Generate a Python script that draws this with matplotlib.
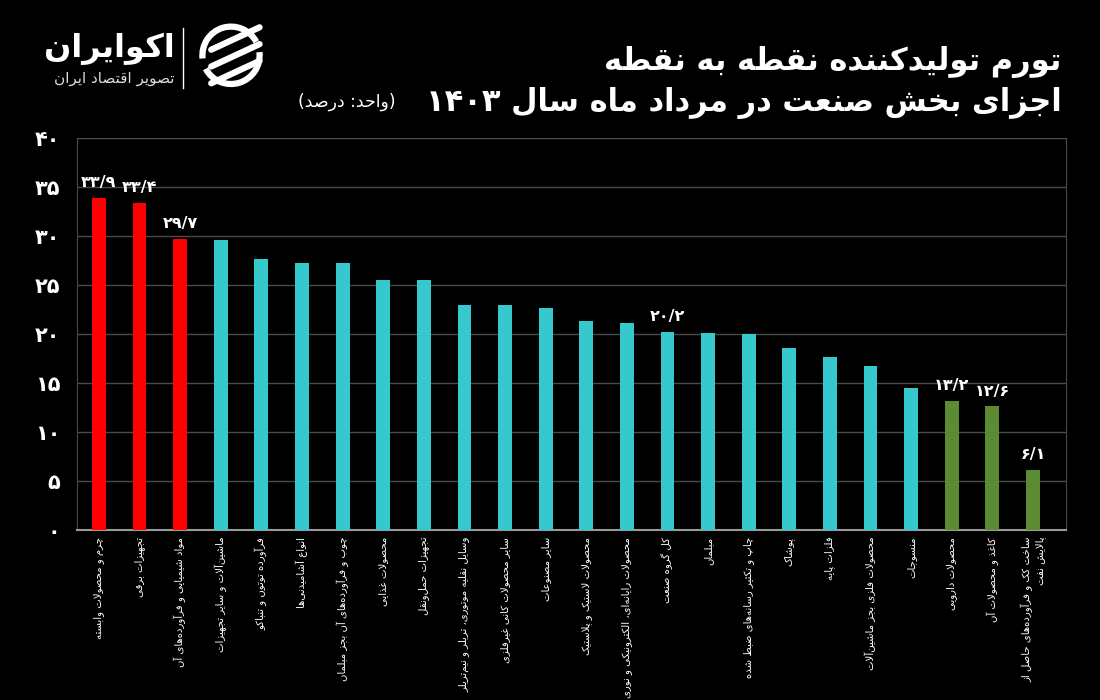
import matplotlib.pyplot as plt
import numpy as np
from matplotlib.patches import Arc
from matplotlib.lines import Line2D

plt.rcParams['font.family'] = ['DejaVu Sans']

# data (PPI inflation, Mordad 1403, percent)
categories = [
    'چرم و محصولات وابسته',
    'تجهیزات برقی',
    'مواد شیمیایی و فرآورده\u200cهای آن',
    'ماشین\u200cآلات و سایر تجهیزات',
    'فرآورده توتون و تنباکو',
    'انواع آشامیدنی\u200cها',
    'چوب و فرآورده\u200cهای آن بجز مبلمان',
    'محصولات غذایی',
    'تجهیزات حمل\u200cونقل',
    'وسایل نقلیه موتوری، تریلر و نیم\u200cتریلر',
    'سایر محصولات کانی غیرفلزی',
    'سایر مصنوعات',
    'محصولات لاستیک و پلاستیک',
    'محصولات رایانه\u200cای، الکترونیکی و نوری',
    'کل گروه صنعت',
    'مبلمان',
    'چاپ و تکثیر رسانه\u200cهای ضبط شده',
    'پوشاک',
    'فلزات پایه',
    'محصولات فلزی بجز ماشین\u200cآلات',
    'منسوجات',
    'محصولات دارویی',
    'کاغذ و محصولات آن',
    'ساخت کک و فرآورده\u200cهای حاصل از\nپالایش نفت',
]
values = [33.9, 33.4, 29.7, 29.6, 27.6, 27.2, 27.2, 25.5, 25.5, 23.0, 22.9, 22.6,
          21.3, 21.1, 20.2, 20.1, 20.0, 18.6, 17.6, 16.7, 14.5, 13.2, 12.6, 6.1]
groups = ['high'] * 3 + ['mid'] * 18 + ['low'] * 3
labelled = [0, 1, 2, 14, 21, 22, 23]
yticks = [0, 5, 10, 15, 20, 25, 30, 35, 40]

group_colors = {'high': '#ff0000', 'mid': '#35c8cd', 'low': '#5b8c34'}

title1 = 'تورم تولیدکننده نقطه به نقطه'
title2 = 'اجزای بخش صنعت در مرداد ماه سال ۱۴۰۳'
unit = '(واحد: درصد)'

# --- minimal Persian shaping + RTL ordering (matplotlib has no complex layout)
_F = {  # iso, fin, ini, med
    0x0621: (0xFE80, None, None, None),
    0x0622: (0xFE81, 0xFE82, None, None),
    0x0623: (0xFE83, 0xFE84, None, None),
    0x0624: (0xFE85, 0xFE86, None, None),
    0x0625: (0xFE87, 0xFE88, None, None),
    0x0626: (0xFE89, 0xFE8A, 0xFE8B, 0xFE8C),
    0x0627: (0xFE8D, 0xFE8E, None, None),
    0x0628: (0xFE8F, 0xFE90, 0xFE91, 0xFE92),
    0x0629: (0xFE93, 0xFE94, None, None),
    0x062A: (0xFE95, 0xFE96, 0xFE97, 0xFE98),
    0x062B: (0xFE99, 0xFE9A, 0xFE9B, 0xFE9C),
    0x062C: (0xFE9D, 0xFE9E, 0xFE9F, 0xFEA0),
    0x062D: (0xFEA1, 0xFEA2, 0xFEA3, 0xFEA4),
    0x062E: (0xFEA5, 0xFEA6, 0xFEA7, 0xFEA8),
    0x062F: (0xFEA9, 0xFEAA, None, None),
    0x0630: (0xFEAB, 0xFEAC, None, None),
    0x0631: (0xFEAD, 0xFEAE, None, None),
    0x0632: (0xFEAF, 0xFEB0, None, None),
    0x0633: (0xFEB1, 0xFEB2, 0xFEB3, 0xFEB4),
    0x0634: (0xFEB5, 0xFEB6, 0xFEB7, 0xFEB8),
    0x0635: (0xFEB9, 0xFEBA, 0xFEBB, 0xFEBC),
    0x0636: (0xFEBD, 0xFEBE, 0xFEBF, 0xFEC0),
    0x0637: (0xFEC1, 0xFEC2, 0xFEC3, 0xFEC4),
    0x0638: (0xFEC5, 0xFEC6, 0xFEC7, 0xFEC8),
    0x0639: (0xFEC9, 0xFECA, 0xFECB, 0xFECC),
    0x063A: (0xFECD, 0xFECE, 0xFECF, 0xFED0),
    0x0641: (0xFED1, 0xFED2, 0xFED3, 0xFED4),
    0x0642: (0xFED5, 0xFED6, 0xFED7, 0xFED8),
    0x0643: (0xFED9, 0xFEDA, 0xFEDB, 0xFEDC),
    0x0644: (0xFEDD, 0xFEDE, 0xFEDF, 0xFEE0),
    0x0645: (0xFEE1, 0xFEE2, 0xFEE3, 0xFEE4),
    0x0646: (0xFEE5, 0xFEE6, 0xFEE7, 0xFEE8),
    0x0647: (0xFEE9, 0xFEEA, 0xFEEB, 0xFEEC),
    0x0648: (0xFEED, 0xFEEE, None, None),
    0x0649: (0xFEEF, 0xFEF0, None, None),
    0x064A: (0xFEF1, 0xFEF2, 0xFEF3, 0xFEF4),
    0x067E: (0xFB56, 0xFB57, 0xFB58, 0xFB59),
    0x0686: (0xFB7A, 0xFB7B, 0xFB7C, 0xFB7D),
    0x0698: (0xFB8A, 0xFB8B, None, None),
    0x06A9: (0xFB8E, 0xFB8F, 0xFB90, 0xFB91),
    0x06AF: (0xFB92, 0xFB93, 0xFB94, 0xFB95),
    0x06CC: (0xFBFC, 0xFBFD, 0xFBFE, 0xFBFF),
}
_LAMALEF = {0x0627: (0xFEFB, 0xFEFC), 0x0622: (0xFEF5, 0xFEF6)}
_MIRROR = {'(': ')', ')': '('}


def _dual(c):
    f = _F.get(ord(c)) if c else None
    return f is not None and f[2] is not None


def _letter(c):
    return c is not None and ord(c) in _F


def shape(word):
    out = []
    i = 0
    n = len(word)
    while i < n:
        c = word[i]
        prev = word[i - 1] if i > 0 else None
        nxt = word[i + 1] if i + 1 < n else None
        pj = _dual(prev) and ord(c) in _F
        if c == '\u0644' and nxt is not None and ord(nxt) in _LAMALEF:
            iso, fin = _LAMALEF[ord(nxt)]
            out.append(chr(fin if pj else iso))
            i += 2
            continue
        if c == '\u200c':
            i += 1
            continue
        f = _F.get(ord(c))
        if f is None:
            out.append(c)
        else:
            nj = f[2] is not None and _letter(nxt)
            if pj and nj:
                out.append(chr(f[3]))
            elif pj:
                out.append(chr(f[1]))
            elif nj:
                out.append(chr(f[2]))
            else:
                out.append(chr(f[0]))
        i += 1
    return ''.join(out)


def rtl(text):
    lines = []
    for line in text.split('\n'):
        s = shape(line)
        # digit runs (with / between digits) stay left-to-right
        runs = []
        j = 0
        while j < len(s):
            if s[j].isdigit():
                k = j
                while k < len(s) and (s[k].isdigit() or (s[k] in '/.' and k + 1 < len(s) and s[k + 1].isdigit())):
                    k += 1
                runs.append(s[j:k])
                j = k
            else:
                runs.append(_MIRROR.get(s[j], s[j]))
                j += 1
        lines.append(''.join(reversed(runs)))
    return '\n'.join(lines)


def fa_num(v, fmt='{:.1f}'):
    s = fmt.format(v).replace('.', '/')
    return s.translate(str.maketrans('0123456789', '۰۱۲۳۴۵۶۷۸۹'))


# --- figure
fig = plt.figure(figsize=(11, 7), dpi=100, facecolor='black')
ax = fig.add_axes([0.070, 0.243, 0.899, 0.560])
ax.set_facecolor('black')

x = np.arange(len(values))
colors = [group_colors[g] for g in groups]
ax.bar(x, values, width=0.34, color=colors, zorder=3)

for i in labelled:
    ax.text(x[i], values[i] + 0.8, fa_num(values[i]), ha='center', va='bottom',
            color='white', fontsize=11.5, fontweight='bold', zorder=4)

ax.set_ylim(0, 40)
ax.set_xlim(-0.54, len(values) - 0.19)
ax.set_yticks(yticks, labels=[fa_num(t, '{:d}') for t in yticks])
ax.set_xticks(x, labels=[rtl(c) for c in categories], rotation=90,
              ha='center', va='top', multialignment='right')
ax.tick_params(axis='y', length=0, pad=12, labelcolor='white', labelsize=15)
ax.tick_params(axis='x', length=0, pad=5, labelcolor='white', labelsize=7.3)
for lab in ax.get_yticklabels():
    lab.set_fontweight('bold')

ax.grid(axis='y', color='#4a4a4a', linewidth=1, zorder=0)
for side in ['left', 'right', 'top']:
    ax.spines[side].set_color('#4a4a4a')
ax.spines['bottom'].set_color('#9a9a9a')
ax.spines['bottom'].set_linewidth(1.5)

# titles
fig.text(0.965, 0.900, rtl(title1), ha='right', va='baseline', color='white',
         fontsize=22, fontweight='bold')
fig.text(0.965, 0.842, rtl(title2), ha='right', va='baseline', color='white',
         fontsize=22, fontweight='bold')
fig.text(0.360, 0.847, rtl(unit), ha='right', va='baseline', color='white',
         fontsize=12.5)

# logo
fig.text(0.159, 0.918, rtl('اکوایران'), ha='right', va='baseline', color='white',
         fontsize=23, fontweight='bold')
fig.text(0.159, 0.882, rtl('تصویر اقتصاد ایران'), ha='right', va='baseline',
         color='#dddddd', fontsize=11)
fig.add_artist(Line2D([0.166, 0.166], [0.875, 0.96], color='white', lw=1,
                      transform=fig.transFigure))
cx, cy = 0.210, 0.921
fig.add_artist(Arc((cx, cy), 0.052, 0.082, theta1=40, theta2=190,
                   color='white', lw=4.5, transform=fig.transFigure))
fig.add_artist(Arc((cx, cy), 0.052, 0.082, theta1=220, theta2=10,
                   color='white', lw=4.5, transform=fig.transFigure))
for dy in [0.024, 0.0, -0.024]:
    fig.add_artist(Line2D([cx - 0.018, cx + 0.026], [cy + dy - 0.016, cy + dy + 0.016],
                          color='white', lw=4.5, solid_capstyle='round',
                          transform=fig.transFigure))

fig.savefig('out.png', dpi=100, facecolor='black')
